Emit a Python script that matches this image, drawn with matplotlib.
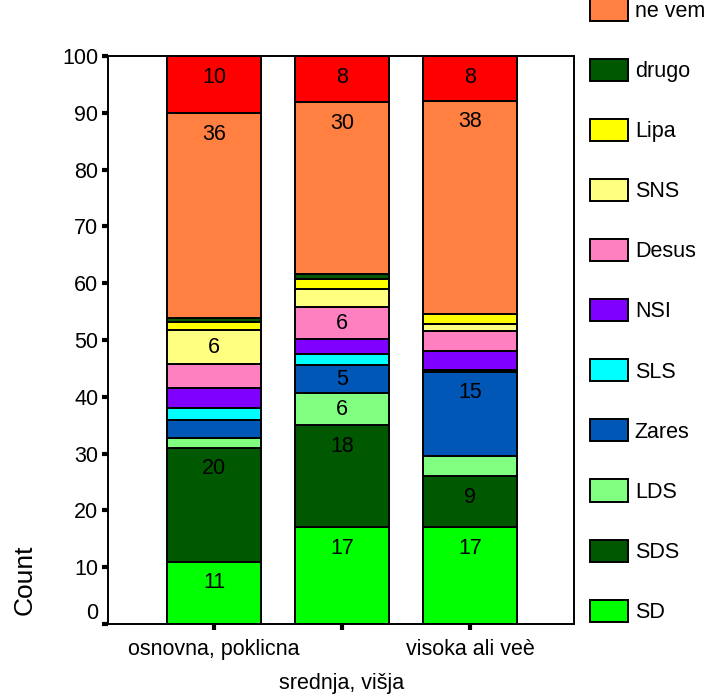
import matplotlib
matplotlib.use('Agg')
import matplotlib.pyplot as plt
import numpy as np

plt.rcParams['font.family'] = ['Liberation Sans', 'DejaVu Sans']

# stacked percentages, bottom to top
groups = ['osnovna, poklicna', 'srednja, višja', 'visoka ali veè']
parties = ['SD', 'SDS', 'LDS', 'Zares', 'SLS', 'NSI', 'Desus', 'SNS', 'Lipa', 'drugo', 'ne vem', 'ne bo volil']
colors = ['#00ff00', '#005800', '#80ff80', '#0057b5', '#00ffff', '#8000ff',
          '#ff80c0', '#ffff80', '#ffff00', '#005800', '#ff8040', '#ff0000']

osnovna = [11, 20, 1.7, 3.2, 2.1, 3.5, 4.2, 6.0, 1.5, 0.7, 36.0, 10.1]
srednja = [17, 18, 5.6, 5.0, 2.0, 2.5, 5.7, 3.1, 1.8, 1.0, 30.2, 8.1]
visoka = [17, 9, 3.6, 14.8, 0.4, 3.2, 3.5, 1.4, 1.6, 0.0, 37.6, 7.9]

data = np.array([osnovna, srednja, visoka])
fs = 15.5

fig = plt.figure(figsize=(7.09, 6.94), dpi=100)
ax = fig.add_axes([108/709, 1 - 624/694, (574-108)/709, (624-56)/694])

x = np.arange(len(groups))
bottom = np.zeros(len(groups))
for i, p in enumerate(parties):
    vals = data[:, i]
    ax.bar(x, vals, 0.735, bottom=bottom, color=colors[i], edgecolor='black',
           linewidth=1.4, label=p)
    for j in range(len(groups)):
        v = vals[j]
        if v >= 5:
            top = bottom[j] + v
            ypos = max(bottom[j] + v / 2, top - 3.7)
            ax.text(x[j], ypos, '%.0f' % v, ha='center', va='center', fontsize=fs)
    bottom += vals

ax.set_xlim(-0.828, 2.8125)
ax.set_ylim(0, 100)
ax.set_yticks(np.arange(0, 101, 10))
ax.set_xticks(x)
ax.set_xticklabels(groups)
ax.tick_params(axis='both', labelsize=fs, length=4, width=3, direction='out')
ax.tick_params(axis='y', pad=3)
ax.tick_params(axis='x', pad=7)
ax.xaxis.get_major_ticks()[1].set_pad(31)
for s in ax.spines.values():
    s.set_linewidth(1.4)
ax.get_yticklabels()[0].set_va('bottom')

fig.text(25/709, 1 - 580/694, 'Count', rotation=90, ha='center', va='center', fontsize=19)

h, l = ax.get_legend_handles_labels()
fig.legend(h[::-1], l[::-1], loc='lower left', bbox_to_anchor=(590/709, 71/694),
           frameon=False, fontsize=fs, borderpad=0, borderaxespad=0,
           handlelength=1.78, handleheight=1.2, handletextpad=0.3, labelspacing=1.71)

fig.savefig('out.png', dpi=100)
